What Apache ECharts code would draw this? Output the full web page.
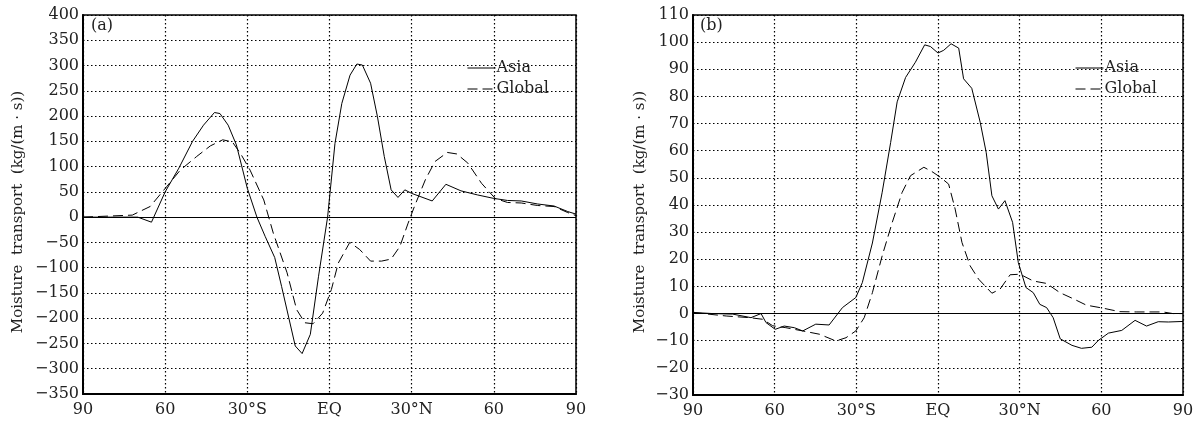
<!DOCTYPE html>
<html>
<head>
<meta charset="utf-8">
<script src="https://cdn.jsdelivr.net/npm/echarts@6/dist/echarts.min.js"></script>
<style>
  html, body { margin: 0; padding: 0; background: #fff; }
  #main { width: 1201px; height: 424px; }
</style>
</head>
<body>
<div id="main"></div>
<script>
// x tick labels, from 90S to 90N every 30 degrees
const xTickLabels = ['90', '60', '30°S', 'EQ', '30°N', '60', '90']

// (a) [latitude, value]
const asiaA = [
  [-90, 0], [-80, 0], [-70, 0], [-65, -10], [-60, 50], [-55, 97], [-50, 150], [-46, 182],
  [-42, 207], [-40, 205], [-37, 182], [-34, 143], [-30, 57], [-26.5, 0], [-23.5, -38],
  [-20, -80], [-17.5, -137], [-12.5, -255], [-10, -270], [-7, -232], [-4, -117], [-0.7, 0],
  [2, 146], [4.5, 225], [7.5, 281], [10, 303], [12, 301], [15, 265], [17.5, 199], [20, 120],
  [22.5, 54], [25, 39], [27.5, 54], [30, 47], [37.5, 32], [42.5, 65], [48, 52], [54, 44],
  [60, 37], [65, 33], [70, 32], [76, 26], [82, 22], [87, 11], [90, 6]
]
const globalA = [
  [-90, 0], [-72, 4], [-65.5, 21], [-59.5, 60], [-54.5, 93], [-48.5, 120], [-43.5, 141],
  [-39, 153], [-35.5, 149], [-32.5, 126], [-29, 93], [-24, 34], [-20.5, -32], [-15.5, -110],
  [-12, -183], [-9, -209], [-6, -211], [-2.5, -190], [0.7, -143], [3.2, -91], [7.4, -50],
  [11, -64], [15, -87], [19, -87], [22.5, -83], [25.7, -58], [28.7, -12], [31, 21], [35, 74],
  [38.5, 110], [43, 128], [46.5, 125], [50.5, 107], [55.5, 67], [60.5, 37], [65, 29],
  [70, 28], [76, 23], [82, 21], [87, 9], [90, 3]
]

// (b) [latitude, value]
const asiaB = [
  [-90, 0.4], [-82.7, 0], [-75.4, -0.2], [-68.7, -1.5], [-65, 0], [-63.2, -3.3], [-59.8, -5.8],
  [-56.5, -4.6], [-52.8, -5.2], [-49.7, -6.4], [-44.9, -3.9], [-40, -4.2], [-35.1, 2.2],
  [-30.2, 5.9], [-27.8, 11.4], [-24.1, 26], [-20.5, 44.7], [-17.4, 63], [-15, 78], [-11.9, 87],
  [-8.3, 92.6], [-4.9, 99], [-2.8, 98.4], [0, 96], [2.1, 97], [4.8, 99.4], [7.6, 97.8],
  [9.4, 86.5], [12.4, 83], [15.5, 70.5], [17.7, 59.4], [19.8, 43.4], [22.2, 38.5], [24.6, 41.6],
  [27.4, 33.6], [29.5, 18.8], [32.3, 9.6], [35, 7.7], [37.4, 3.4], [39.9, 2.2], [42.3, -1.5],
  [44.9, -9.3], [49.2, -11.7], [52.7, -12.8], [56.5, -12.4], [58.9, -9.9], [62.6, -7.2],
  [67.5, -6.2], [72.4, -2.5], [76.6, -4.6], [80.9, -3], [84.6, -3.1], [90, -2.9]
]
const globalB = [
  [-90, 0.4], [-77.8, -0.9], [-69.3, -1.5], [-64.4, -2.1], [-60.7, -4.5], [-55.9, -5.2],
  [-49.7, -6.4], [-43.6, -7.6], [-37.5, -10.1], [-33.8, -8.9], [-30.2, -6.4], [-27.1, -1.5],
  [-24.1, 7.7], [-20.5, 21.3], [-16.8, 33.6], [-13.2, 44.6], [-10.1, 50.8], [-5.2, 53.9],
  [-2.2, 52.3], [0.9, 50.2], [3.9, 47.7], [6.3, 38.5], [8.8, 26.2], [11.8, 17.6], [14.9, 12.7],
  [19.8, 7.5], [22.8, 9], [26.5, 14.3], [30.1, 14.5], [35, 12], [39.9, 11.1], [44.8, 7.7],
  [49.6, 5.5], [54.5, 3.1], [60.6, 2], [66.7, 0.7], [72.8, 0.6], [82.6, 0.6], [86.3, 0], [90, 0]
]

const FONT = 'DejaVu Serif'
const TXT = '#222'
const DASH = [10, 5]

var chartDom = document.getElementById('main')
var myChart = echarts.init(chartDom)

function xAxisOf (gridIndex) {
  return {
    gridIndex: gridIndex,
    type: 'value',
    min: -90,
    max: 90,
    interval: 30,
    axisLine: { show: true, onZero: false, lineStyle: { color: '#000', width: 2 } },
    axisTick: { show: false },
    splitLine: { show: true, lineStyle: { color: '#000', width: 1.2, type: [1.5, 2.5] } },
    axisLabel: {
      color: TXT,
      fontFamily: FONT,
      fontSize: 16,
      margin: 8,
      formatter: function (v) { return xTickLabels[Math.round((v + 90) / 30)] }
    }
  }
}

function yAxisOf (gridIndex, min, max, interval) {
  return {
    gridIndex: gridIndex,
    type: 'value',
    min: min,
    max: max,
    interval: interval,
    axisLine: { show: true, onZero: false, lineStyle: { color: '#000', width: 2 } },
    axisTick: { show: false },
    splitLine: { show: true, lineStyle: { color: '#000', width: 1.2, type: [1.5, 2.5] } },
    axisLabel: {
      color: TXT,
      fontFamily: FONT,
      fontSize: 16,
      margin: 4,
      formatter: function (v) { return String(v).replace('-', '\u2212') }
    }
  }
}

function lineOf (name, data, idx, dashed, zeroLine) {
  var s = {
    name: name,
    type: 'line',
    xAxisIndex: idx,
    yAxisIndex: idx,
    data: data,
    symbol: 'none',
    smooth: false,
    lineStyle: { color: '#000', width: 1, type: dashed ? DASH : 'solid' },
    itemStyle: { color: '#000' }
  }
  if (zeroLine) {
    s.markLine = {
      silent: true,
      symbol: 'none',
      label: { show: false },
      lineStyle: { color: '#000', width: 1, type: 'solid' },
      data: [{ yAxis: 0 }]
    }
  }
  return s
}

function legendOf (left) {
  return {
    left: left,
    top: 60,
    orient: 'vertical',
    align: 'left',
    padding: 0,
    itemWidth: 28,
    itemHeight: 14,
    itemGap: 5,
    selectedMode: false,
    itemStyle: { opacity: 0 },
    lineStyle: { width: 1 },
    textStyle: { color: TXT, fontFamily: FONT, fontSize: 16, padding: [0, 0, 0, -4] },
    data: ['Asia', 'Global']
  }
}

function yNameOf (x) {
  return {
    type: 'text',
    x: x,
    y: 212,
    rotation: Math.PI / 2,
    silent: true,
    style: {
      text: 'Moisture  transport  (kg/(m · s))',
      font: '15px "DejaVu Serif"',
      fill: TXT,
      align: 'center',
      verticalAlign: 'middle',
      textAlign: 'center',
      textVerticalAlign: 'middle'
    }
  }
}

var option = {
  animation: false,
  backgroundColor: '#fff',
  grid: [
    { left: 83, top: 15, width: 493, height: 379, show: true, borderColor: '#000', borderWidth: 1.5, backgroundColor: 'transparent' },
    { left: 693, top: 15, width: 490, height: 380, show: true, borderColor: '#000', borderWidth: 1.5, backgroundColor: 'transparent' }
  ],
  xAxis: [xAxisOf(0), xAxisOf(1)],
  yAxis: [yAxisOf(0, -350, 400, 50), yAxisOf(1, -30, 110, 10)],
  legend: [legendOf(467), legendOf(1075)],
  graphic: [
    yNameOf(18),
    yNameOf(640),
    { type: 'text', x: 91, y: 18, silent: true, style: { text: '(a)', font: '16px "DejaVu Serif"', fill: TXT } },
    { type: 'text', x: 700, y: 18, silent: true, style: { text: '(b)', font: '16px "DejaVu Serif"', fill: TXT } }
  ],
  series: [
    lineOf('Asia', asiaA, 0, false, true),
    lineOf('Global', globalA, 0, true, false),
    lineOf('Asia', asiaB, 1, false, true),
    lineOf('Global', globalB, 1, true, false)
  ]
}

option && myChart.setOption(option)
</script>
</body>
</html>
